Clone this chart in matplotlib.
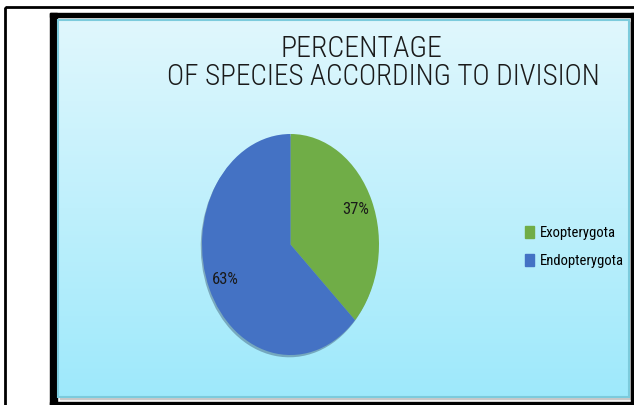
import numpy as np
import matplotlib.pyplot as plt
from matplotlib.patches import Rectangle
from matplotlib.colors import LinearSegmentedColormap

labels = ["Exopterygota", "Endopterygota"]
shares = [37, 63]
colors = ["#70ad47", "#4472c4"]
title_lines = ["PERCENTAGE", "OF SPECIES ACCORDING TO DIVISION"]

plt.rcParams['font.family'] = ['Roboto Condensed', 'Open Sans Condensed',
                               'DejaVu Sans Condensed', 'Liberation Sans Narrow', 'Roboto']

W, H = 634, 405
fig = plt.figure(figsize=(W / 100, H / 100), dpi=100)

# background frame, in pixel coordinates
bg = fig.add_axes([0, 0, 1, 1])
bg.set_xlim(0, W)
bg.set_ylim(H, 0)
bg.axis("off")
bg.add_patch(Rectangle((5, 7), W, H, fill=False, lw=2, ec="black"))
bg.add_patch(Rectangle((50, 13), 7, H, color="black"))
bg.add_patch(Rectangle((50, 13), W, 4, color="black"))
bg.add_patch(Rectangle((631, 13), 3, H, color="black"))
bg.add_patch(Rectangle((50, 402), W, 3, color="black"))

# gradient panel
cmap = LinearSegmentedColormap.from_list("panel", ["#e0f7fd", "#9ee9fb"])
grad = np.linspace(0, 1, 256).reshape(-1, 1)
bg.imshow(grad, cmap=cmap, extent=(58, 629, 397, 20), aspect="auto", zorder=1)
bg.add_patch(Rectangle((60, 22), 570, 377, color="#c8c8c8", zorder=0.5))
bg.add_patch(Rectangle((58, 20), 571, 377, fill=False, lw=1.5, ec="#7ccbdc", zorder=2))

bg.text(361, 49, title_lines[0], ha="center", va="center", fontsize=21.5,
        fontweight="light", color="#1a1a1a", zorder=3)
bg.text(383, 77, title_lines[1], ha="center", va="center", fontsize=21,
        fontweight="light", color="#1a1a1a", zorder=3)

# pie, stretched into an ellipse
ax = fig.add_axes([202 / W, 1 - 355 / H, 177 / W, 221 / H])
wedges, _, autotexts = ax.pie(shares, colors=colors, startangle=90, counterclock=False,
                              autopct="%d%%", pctdistance=0.8,
                              wedgeprops=dict(linewidth=0),
                              textprops=dict(fontsize=12, color="#1a1a1a"),
                              shadow=dict(ox=-0.01, oy=-0.015, shade=0.6, alpha=0.35))
ax.set_aspect("auto")
ax.set_xlim(-1, 1)
ax.set_ylim(-1, 1)

handles = [Rectangle((0, 0), 1, 1, color=c) for c in colors]
fig.legend(handles, labels, loc="center left", bbox_to_anchor=(525 / W, 1 - 247 / H),
           frameon=False, fontsize=10.5, handlelength=0.65, handleheight=0.9,
           handletextpad=0.35, labelspacing=1.0, borderpad=0, borderaxespad=0)

fig.savefig("out.png", dpi=100)
